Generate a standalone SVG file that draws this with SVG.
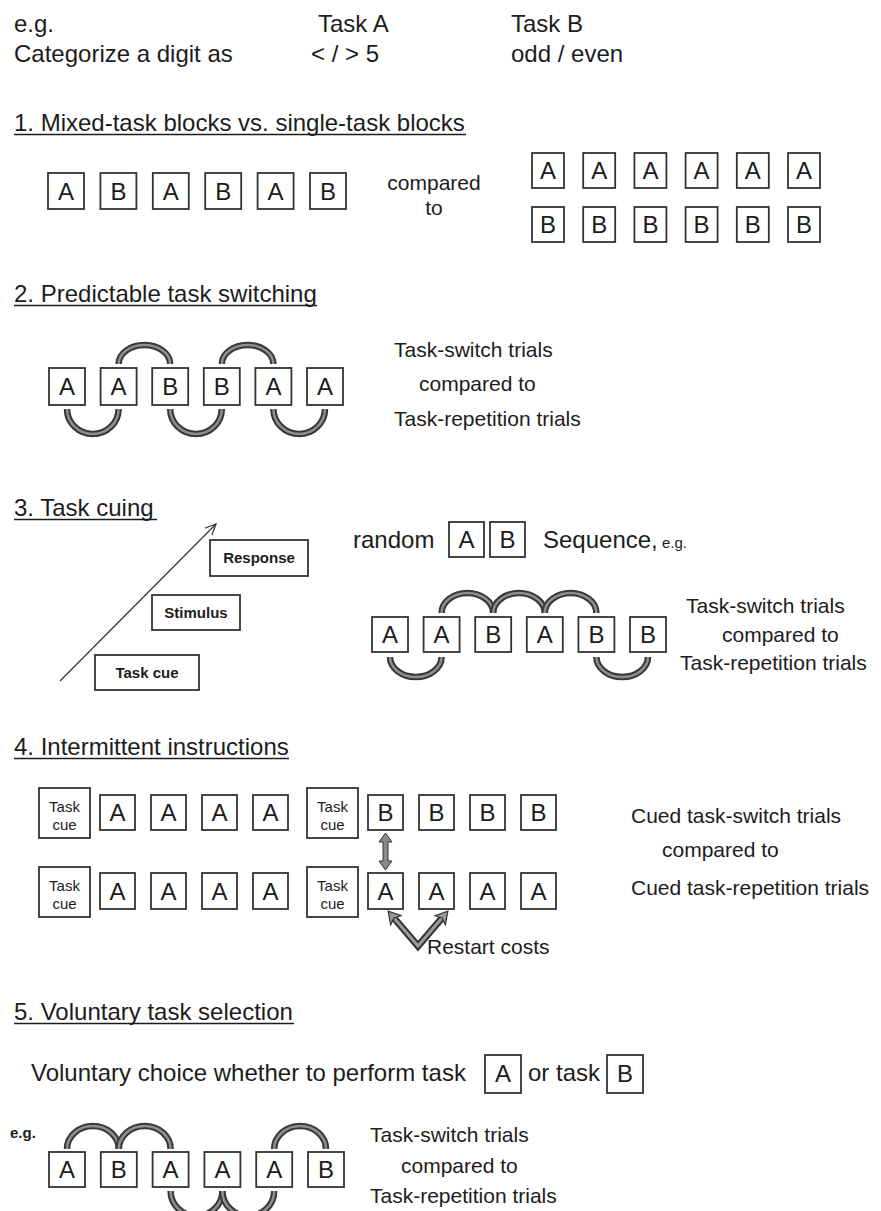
<svg xmlns="http://www.w3.org/2000/svg" xmlns:xlink="http://www.w3.org/1999/xlink" width="881" height="1211" viewBox="0 0 881 1211">
<style>
text { font-family: "Liberation Sans", Arial, sans-serif; fill: #1c1c1c; }
.h { font-size: 24px; }
.lbl { font-size: 21px; }
.box { fill: #fff; stroke: #333; stroke-width: 1.8; }
.lt { font-size: 24px; text-anchor: middle; }
.ct { font-size: 15px; text-anchor: middle; }
.bt { font-size: 15px; font-weight: bold; text-anchor: middle; }
.ul { stroke: #1c1c1c; stroke-width: 1.3; }
.arcO { fill: none; stroke: #383838; stroke-width: 6.5; }
.arcI { fill: none; stroke: #8e8e8e; stroke-width: 2.5; }
</style>
<defs>
<marker id="thin" viewBox="0 0 12 12" refX="11" refY="6" markerWidth="12" markerHeight="12" markerUnits="userSpaceOnUse" orient="auto">
<path d="M0,1 L11,6 L0,11" fill="none" stroke="#333" stroke-width="1.2"/>
</marker>
<marker id="vhead" viewBox="0 0 14 16" refX="4" refY="8" markerWidth="14" markerHeight="16" markerUnits="userSpaceOnUse" orient="auto-start-reverse">
<path d="M1,1 L13,8 L1,15 L4,8 z" fill="#9a9a9a" stroke="#333" stroke-width="1.2"/>
</marker>
</defs>
<rect width="881" height="1211" fill="#fff"/>

<g id="intro">
<text class="h" x="14" y="32">e.g.</text>
<text class="h" x="318" y="32">Task A</text>
<text class="h" x="511" y="32">Task B</text>
<text class="h" x="14" y="62">Categorize a digit as</text>
<text class="h" x="311" y="62">&lt; / &gt; 5</text>
<text class="h" x="511" y="62">odd / even</text>
</g>

<!-- Section 1 -->
<g id="heading1">
<text class="h" x="14" y="131">1. Mixed-task blocks vs. single-task blocks</text>
<line class="ul" x1="14" y1="134.5" x2="466" y2="134.5"/>
</g>
<g id="s1-mixed">
<g id="s1m1"><rect class="box" x="48" y="173" width="36" height="36"/><text class="lt" x="66" y="199.5">A</text></g>
<g id="s1m2"><rect class="box" x="100.4" y="173" width="36" height="36"/><text class="lt" x="118.4" y="199.5">B</text></g>
<g id="s1m3"><rect class="box" x="152.8" y="173" width="36" height="36"/><text class="lt" x="170.8" y="199.5">A</text></g>
<g id="s1m4"><rect class="box" x="205.2" y="173" width="36" height="36"/><text class="lt" x="223.2" y="199.5">B</text></g>
<g id="s1m5"><rect class="box" x="257.6" y="173" width="36" height="36"/><text class="lt" x="275.6" y="199.5">A</text></g>
<g id="s1m6"><rect class="box" x="310" y="173" width="36" height="36"/><text class="lt" x="328" y="199.5">B</text></g>
</g>
<g id="s1-compared">
<text class="lbl" x="434" y="190" text-anchor="middle">compared</text>
<text class="lbl" x="434" y="215" text-anchor="middle">to</text>
</g>
<g id="s1-singleA">
<g id="s1a1"><rect class="box" x="532" y="153" width="32" height="35"/><text class="lt" x="548" y="179">A</text></g>
<g id="s1a2"><rect class="box" x="583.2" y="153" width="32" height="35"/><text class="lt" x="599.2" y="179">A</text></g>
<g id="s1a3"><rect class="box" x="634.4" y="153" width="32" height="35"/><text class="lt" x="650.4" y="179">A</text></g>
<g id="s1a4"><rect class="box" x="685.6" y="153" width="32" height="35"/><text class="lt" x="701.6" y="179">A</text></g>
<g id="s1a5"><rect class="box" x="736.8" y="153" width="32" height="35"/><text class="lt" x="752.8" y="179">A</text></g>
<g id="s1a6"><rect class="box" x="788" y="153" width="32" height="35"/><text class="lt" x="804" y="179">A</text></g>
</g>
<g id="s1-singleB">
<g id="s1b1"><rect class="box" x="532" y="207" width="32" height="35"/><text class="lt" x="548" y="233">B</text></g>
<g id="s1b2"><rect class="box" x="583.2" y="207" width="32" height="35"/><text class="lt" x="599.2" y="233">B</text></g>
<g id="s1b3"><rect class="box" x="634.4" y="207" width="32" height="35"/><text class="lt" x="650.4" y="233">B</text></g>
<g id="s1b4"><rect class="box" x="685.6" y="207" width="32" height="35"/><text class="lt" x="701.6" y="233">B</text></g>
<g id="s1b5"><rect class="box" x="736.8" y="207" width="32" height="35"/><text class="lt" x="752.8" y="233">B</text></g>
<g id="s1b6"><rect class="box" x="788" y="207" width="32" height="35"/><text class="lt" x="804" y="233">B</text></g>
</g>

<!-- Section 2 -->
<g id="heading2">
<text class="h" x="14" y="302">2. Predictable task switching</text>
<line class="ul" x1="14" y1="305.5" x2="317" y2="305.5"/>
</g>
<g id="s2-boxes">
<g id="s2b1"><rect class="box" x="49" y="368" width="36" height="37"/><text class="lt" x="67" y="395">A</text></g>
<g id="s2b2"><rect class="box" x="100.6" y="368" width="36" height="37"/><text class="lt" x="118.6" y="395">A</text></g>
<g id="s2b3"><rect class="box" x="152.2" y="368" width="36" height="37"/><text class="lt" x="170.2" y="395">B</text></g>
<g id="s2b4"><rect class="box" x="203.8" y="368" width="36" height="37"/><text class="lt" x="221.8" y="395">B</text></g>
<g id="s2b5"><rect class="box" x="255.4" y="368" width="36" height="37"/><text class="lt" x="273.4" y="395">A</text></g>
<g id="s2b6"><rect class="box" x="307" y="368" width="36" height="37"/><text class="lt" x="325" y="395">A</text></g>
</g>
<g id="s2-labels">
<text class="lbl" x="394" y="357">Task-switch trials</text>
<text class="lbl" x="419" y="391">compared to</text>
<text class="lbl" x="394" y="426">Task-repetition trials</text>
</g>

<!-- Section 3 -->
<g id="heading3">
<text class="h" x="14" y="516">3. Task cuing</text>
<line class="ul" x1="14" y1="519.5" x2="157" y2="519.5"/>
</g>
<g id="s3-timeline">
<g id="s3-response"><rect class="box" x="210" y="540" width="98" height="36"/><text class="bt" x="259" y="563">Response</text></g>
<g id="s3-stimulus"><rect class="box" x="152" y="595" width="88" height="35"/><text class="bt" x="196" y="618">Stimulus</text></g>
<g id="s3-taskcue"><rect class="box" x="95" y="655" width="104" height="35"/><text class="bt" x="147" y="678">Task cue</text></g>
</g>
<g id="s3-random">
<text class="h" x="353" y="548">random</text>
<g id="s3rA"><rect class="box" x="449" y="522" width="35" height="35"/><text class="lt" x="466.5" y="548">A</text></g>
<g id="s3rB"><rect class="box" x="490" y="522" width="35" height="35"/><text class="lt" x="507.5" y="548">B</text></g>
<text class="h" x="543" y="548">Sequence,<tspan font-size="15"> e.g.</tspan></text>
</g>
<g id="s3-boxes">
<g id="s3b1"><rect class="box" x="372" y="617" width="36" height="35"/><text class="lt" x="390" y="643">A</text></g>
<g id="s3b2"><rect class="box" x="423.6" y="617" width="36" height="35"/><text class="lt" x="441.6" y="643">A</text></g>
<g id="s3b3"><rect class="box" x="475.2" y="617" width="36" height="35"/><text class="lt" x="493.2" y="643">B</text></g>
<g id="s3b4"><rect class="box" x="526.8" y="617" width="36" height="35"/><text class="lt" x="544.8" y="643">A</text></g>
<g id="s3b5"><rect class="box" x="578.4" y="617" width="36" height="35"/><text class="lt" x="596.4" y="643">B</text></g>
<g id="s3b6"><rect class="box" x="630" y="617" width="36" height="35"/><text class="lt" x="648" y="643">B</text></g>
</g>
<g id="s3-labels">
<text class="lbl" x="686" y="613">Task-switch trials</text>
<text class="lbl" x="722" y="642">compared to</text>
<text class="lbl" x="680" y="670">Task-repetition trials</text>
</g>

<!-- Section 4 -->
<g id="heading4">
<text class="h" x="14" y="755">4. Intermittent instructions</text>
<line class="ul" x1="14" y1="758.5" x2="289" y2="758.5"/>
</g>
<g id="s4-row1">
<g id="s4r1cue1"><rect class="box" x="39" y="788" width="51" height="50"/><text class="ct" x="64.5" y="812">Task</text><text class="ct" x="64.5" y="830">cue</text></g>
<g id="s4r1a1"><rect class="box" x="100" y="795" width="35" height="35"/><text class="lt" x="117.5" y="821">A</text></g>
<g id="s4r1a2"><rect class="box" x="151" y="795" width="35" height="35"/><text class="lt" x="168.5" y="821">A</text></g>
<g id="s4r1a3"><rect class="box" x="202" y="795" width="35" height="35"/><text class="lt" x="219.5" y="821">A</text></g>
<g id="s4r1a4"><rect class="box" x="253" y="795" width="35" height="35"/><text class="lt" x="270.5" y="821">A</text></g>
<g id="s4r1cue2"><rect class="box" x="307" y="788" width="51" height="50"/><text class="ct" x="332.5" y="812">Task</text><text class="ct" x="332.5" y="830">cue</text></g>
<g id="s4r1b1"><rect class="box" x="368" y="795" width="35" height="35"/><text class="lt" x="385.5" y="821">B</text></g>
<g id="s4r1b2"><rect class="box" x="419" y="795" width="35" height="35"/><text class="lt" x="436.5" y="821">B</text></g>
<g id="s4r1b3"><rect class="box" x="470" y="795" width="35" height="35"/><text class="lt" x="487.5" y="821">B</text></g>
<g id="s4r1b4"><rect class="box" x="521" y="795" width="35" height="35"/><text class="lt" x="538.5" y="821">B</text></g>
</g>
<g id="s4-row2">
<g id="s4r2cue1"><rect class="box" x="39" y="867" width="51" height="50"/><text class="ct" x="64.5" y="891">Task</text><text class="ct" x="64.5" y="909">cue</text></g>
<g id="s4r2a1"><rect class="box" x="100" y="873" width="35" height="36"/><text class="lt" x="117.5" y="899.5">A</text></g>
<g id="s4r2a2"><rect class="box" x="151" y="873" width="35" height="36"/><text class="lt" x="168.5" y="899.5">A</text></g>
<g id="s4r2a3"><rect class="box" x="202" y="873" width="35" height="36"/><text class="lt" x="219.5" y="899.5">A</text></g>
<g id="s4r2a4"><rect class="box" x="253" y="873" width="35" height="36"/><text class="lt" x="270.5" y="899.5">A</text></g>
<g id="s4r2cue2"><rect class="box" x="307" y="867" width="51" height="50"/><text class="ct" x="332.5" y="891">Task</text><text class="ct" x="332.5" y="909">cue</text></g>
<g id="s4r2a5"><rect class="box" x="368" y="873" width="35" height="36"/><text class="lt" x="385.5" y="899.5">A</text></g>
<g id="s4r2a6"><rect class="box" x="419" y="873" width="35" height="36"/><text class="lt" x="436.5" y="899.5">A</text></g>
<g id="s4r2a7"><rect class="box" x="470" y="873" width="35" height="36"/><text class="lt" x="487.5" y="899.5">A</text></g>
<g id="s4r2a8"><rect class="box" x="521" y="873" width="35" height="36"/><text class="lt" x="538.5" y="899.5">A</text></g>
</g>
<g id="s4-labels">
<text class="lbl" x="631" y="823">Cued task-switch trials</text>
<text class="lbl" x="662" y="857">compared to</text>
<text class="lbl" x="631" y="895">Cued task-repetition trials</text>
<text class="lbl" x="427" y="954">Restart costs</text>
</g>

<!-- Section 5 -->
<g id="heading5">
<text class="h" x="14" y="1020">5. Voluntary task selection</text>
<line class="ul" x1="14" y1="1023.5" x2="294" y2="1023.5"/>
</g>
<g id="s5-choice">
<text class="h" x="31" y="1081">Voluntary choice whether to perform task</text>
<g id="s5cA"><rect class="box" x="485" y="1055" width="36" height="38"/><text class="lt" x="503" y="1082">A</text></g>
<text class="h" x="528" y="1081">or task</text>
<g id="s5cB"><rect class="box" x="607" y="1055" width="36" height="38"/><text class="lt" x="625" y="1082">B</text></g>
</g>
<g id="s5-boxes">
<text x="10" y="1138" font-size="15" font-weight="bold">e.g.</text>
<g id="s5b1"><rect class="box" x="49" y="1152" width="36" height="35"/><text class="lt" x="67" y="1178">A</text></g>
<g id="s5b2"><rect class="box" x="100.8" y="1152" width="36" height="35"/><text class="lt" x="118.8" y="1178">B</text></g>
<g id="s5b3"><rect class="box" x="152.6" y="1152" width="36" height="35"/><text class="lt" x="170.6" y="1178">A</text></g>
<g id="s5b4"><rect class="box" x="204.4" y="1152" width="36" height="35"/><text class="lt" x="222.4" y="1178">A</text></g>
<g id="s5b5"><rect class="box" x="256.2" y="1152" width="36" height="35"/><text class="lt" x="274.2" y="1178">A</text></g>
<g id="s5b6"><rect class="box" x="308" y="1152" width="36" height="35"/><text class="lt" x="326" y="1178">B</text></g>
</g>
<g id="s5-labels">
<text class="lbl" x="370" y="1142">Task-switch trials</text>
<text class="lbl" x="401" y="1173">compared to</text>
<text class="lbl" x="370" y="1203">Task-repetition trials</text>
</g>

<!-- Connectors -->
<g id="connectors">
<defs>
<path id="c2t1" d="M118.6,364 A25.8,19 0 0 1 170.2,364"/>
<path id="c2t2" d="M221.8,364 A25.8,19 0 0 1 273.4,364"/>
<path id="c2b1" d="M67,409 A25.8,25 0 0 0 118.6,409"/>
<path id="c2b2" d="M170.2,409 A25.8,25 0 0 0 221.8,409"/>
<path id="c2b3" d="M273.4,409 A25.8,25 0 0 0 325,409"/>
<path id="c3t1" d="M441.6,613 A25.8,20 0 0 1 493.2,613"/>
<path id="c3t2" d="M493.2,613 A25.8,20 0 0 1 544.8,613"/>
<path id="c3t3" d="M544.8,613 A25.8,20 0 0 1 596.4,613"/>
<path id="c3b1" d="M390,657 A25.8,20 0 0 0 441.6,657"/>
<path id="c3b2" d="M596.4,657 A25.8,20 0 0 0 648,657"/>
<path id="c5t1" d="M67,1149 A25.9,23 0 0 1 118.8,1149"/>
<path id="c5t2" d="M118.8,1149 A25.9,23 0 0 1 170.6,1149"/>
<path id="c5t3" d="M274.2,1149 A25.9,23 0 0 1 326,1149"/>
<path id="c5b1" d="M170.6,1191 A25.9,25 0 0 0 222.4,1191"/>
<path id="c5b2" d="M222.4,1191 A25.9,25 0 0 0 274.2,1191"/>
</defs>
<use xlink:href="#c2t1" class="arcO"/><use xlink:href="#c2t1" class="arcI"/>
<use xlink:href="#c2t2" class="arcO"/><use xlink:href="#c2t2" class="arcI"/>
<use xlink:href="#c2b1" class="arcO"/><use xlink:href="#c2b1" class="arcI"/>
<use xlink:href="#c2b2" class="arcO"/><use xlink:href="#c2b2" class="arcI"/>
<use xlink:href="#c2b3" class="arcO"/><use xlink:href="#c2b3" class="arcI"/>
<use xlink:href="#c3t1" class="arcO"/><use xlink:href="#c3t1" class="arcI"/>
<use xlink:href="#c3t2" class="arcO"/><use xlink:href="#c3t2" class="arcI"/>
<use xlink:href="#c3t3" class="arcO"/><use xlink:href="#c3t3" class="arcI"/>
<use xlink:href="#c3b1" class="arcO"/><use xlink:href="#c3b1" class="arcI"/>
<use xlink:href="#c3b2" class="arcO"/><use xlink:href="#c3b2" class="arcI"/>
<use xlink:href="#c5t1" class="arcO"/><use xlink:href="#c5t1" class="arcI"/>
<use xlink:href="#c5t2" class="arcO"/><use xlink:href="#c5t2" class="arcI"/>
<use xlink:href="#c5t3" class="arcO"/><use xlink:href="#c5t3" class="arcI"/>
<use xlink:href="#c5b1" class="arcO"/><use xlink:href="#c5b1" class="arcI"/>
<use xlink:href="#c5b2" class="arcO"/><use xlink:href="#c5b2" class="arcI"/>
<line id="s3-time-arrow" x1="60" y1="681" x2="216" y2="524" stroke="#333" stroke-width="1.2" marker-end="url(#thin)"/>
<polygon id="s4-double-arrow" points="385.5,833 392,842 388,842 388,861 392,861 385.5,870 379,861 383,861 383,842 379,842" fill="#8a8a8a" stroke="#333" stroke-width="1"/>
<g id="s4-restart-v">
<path d="M394,918 L418,946 L442,918" fill="none" stroke="#333" stroke-width="7" stroke-linejoin="miter"/>
<path d="M394,918 L418,946 L442,918" fill="none" stroke="#9a9a9a" stroke-width="3" stroke-linejoin="miter" marker-start="url(#vhead)" marker-end="url(#vhead)"/>
</g>
</g>
</svg>
